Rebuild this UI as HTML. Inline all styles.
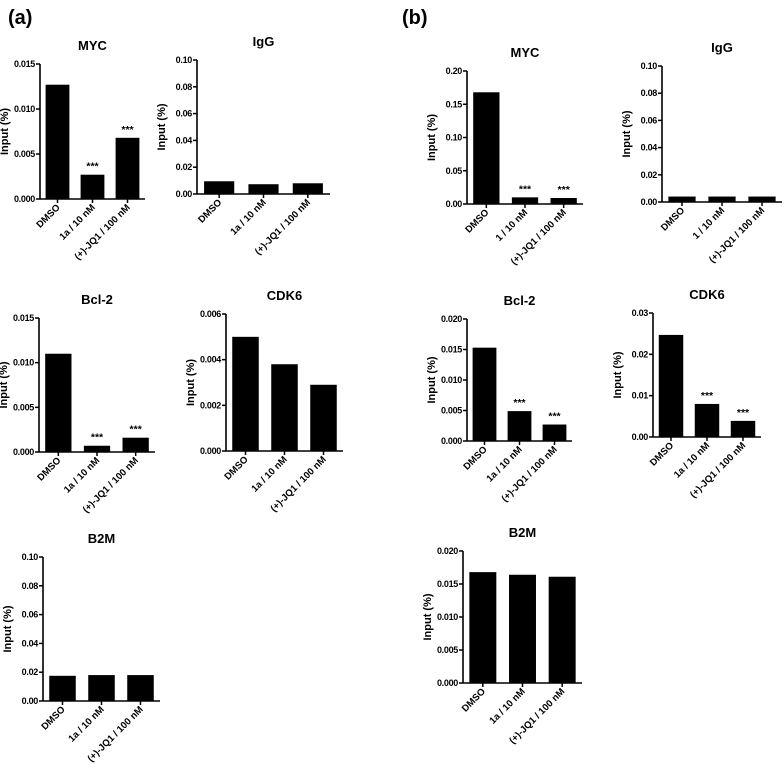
<!DOCTYPE html>
<html><head><meta charset="utf-8"><style>
html,body{margin:0;padding:0;background:#fff;}
svg{display:block;font-family:"Liberation Sans",Arial,sans-serif;font-weight:bold;}
</style></head><body>
<svg id="fig" width="784" height="776" viewBox="0 0 784 776" xmlns="http://www.w3.org/2000/svg">
<text x="8" y="24" font-size="20">(a)</text>
<text x="402" y="24" font-size="20">(b)</text>
</svg>
<script>
// data arrays
const catsA = ["DMSO","1a / 10 nM","(+)-JQ1 / 100 nM"];
const catsB = ["DMSO","1 / 10 nM","(+)-JQ1 / 100 nM"];
const aMycVals = [0.0127,0.0027,0.0068];
const aMycTicks = [0,0.005,0.010,0.015];
const aMycStars = ["","***","***"];
const aIggVals = [0.0095,0.0073,0.008];
const aIggTicks = [0,0.02,0.04,0.06,0.08,0.10];
const aBclVals = [0.011,0.0007,0.0016];
const aBclTicks = [0,0.005,0.010,0.015];
const aBclStars = ["","***","***"];
const aCdkVals = [0.005,0.0038,0.0029];
const aCdkTicks = [0,0.002,0.004,0.006];
const aB2mVals = [0.0175,0.018,0.018];
const aB2mTicks = [0,0.02,0.04,0.06,0.08,0.10];
const bMycVals = [0.168,0.010,0.009];
const bMycTicks = [0,0.05,0.10,0.15,0.20];
const bMycStars = ["","***","***"];
const bIggVals = [0.004,0.004,0.004];
const bIggTicks = [0,0.02,0.04,0.06,0.08,0.10];
const bBclVals = [0.0153,0.0049,0.0027];
const bBclTicks = [0,0.005,0.010,0.015,0.020];
const bBclStars = ["","***","***"];
const bCdkVals = [0.0247,0.008,0.0039];
const bCdkTicks = [0,0.01,0.02,0.03];
const bCdkStars = ["","***","***"];
const bB2mVals = [0.0168,0.0164,0.0161];
const bB2mTicks = [0,0.005,0.010,0.015,0.020];
const noStars = ["","",""];

const NS="http://www.w3.org/2000/svg";
const svg=document.getElementById('fig');
function mk(tag,attrs,parent){const e=document.createElementNS(NS,tag);for(const k in attrs)e.setAttribute(k,attrs[k]);(parent||svg).appendChild(e);return e;}

function panel(id,title,x0,x1,yTop,y0,dec,ticks,vals,cats,stars){
  const g=mk('g',{});
  
  
  const max=ticks[ticks.length-1];
  const ys=v=>y0-(v/max)*(y0-yTop);
  const step=(x1-x0)/cats.length;
  const xs=i=>x0+step*(i+0.5);
  const bw=step*0.68;
  const t=mk('text',{x:(x0+x1)/2,y:yTop-14,'font-size':13,'text-anchor':'middle'},g);
  t.textContent=title;
  
  
  vals.forEach((v,i)=>{
    const r=mk('rect',{x:xs(i)-bw/2,y:ys(v),width:bw,height:y0-ys(v),fill:'#000'},g);
    
    
    if(stars[i]){
      const s=mk('text',{x:xs(i),y:ys(v)-5,'font-size':10.5,'text-anchor':'middle'},g);
      s.textContent=stars[i];
      
      
    }
    mk('line',{x1:xs(i),x2:xs(i),y1:y0,y2:y0+4,stroke:'#000','stroke-width':1.5},g);
    const l=mk('text',{x:0,y:0,'font-size':9.6,'text-anchor':'end',transform:`translate(${xs(i)+3},${y0+9}) rotate(-45)`},g);
    l.textContent=cats[i];
    
    
  });
  mk('line',{x1:x0,x2:x0,y1:yTop,y2:y0,stroke:'#000','stroke-width':1.6},g);
  mk('line',{x1:x0,x2:x1,y1:y0,y2:y0,stroke:'#000','stroke-width':1.6},g);
  ticks.forEach(tv=>{
    mk('line',{x1:x0-4,x2:x0,y1:ys(tv),y2:ys(tv),stroke:'#000','stroke-width':1.5},g);
    const tl=mk('text',{x:x0-5,y:ys(tv)+3,'font-size':9,'text-anchor':'end','letter-spacing':'-0.3'},g);
    tl.textContent=tv.toFixed(dec);
    
    
  });
  const yt=mk('text',{x:0,y:0,'font-size':11,'text-anchor':'middle',transform:`translate(${x0-32},${(yTop+y0)/2}) rotate(-90)`},g);
  yt.textContent='Input (%)';
  
  
}
panel('a-myc','MYC',40,145,64,199,3,aMycTicks,aMycVals,catsA,aMycStars);
panel('a-igg','IgG',197,330,60,194,2,aIggTicks,aIggVals,catsA,noStars);
panel('a-bcl2','Bcl-2',39,155,318,452,3,aBclTicks,aBclVals,catsA,aBclStars);
panel('a-cdk6','CDK6',226,343,314,451,3,aCdkTicks,aCdkVals,catsA,noStars);
panel('a-b2m','B2M',43,160,557,701,2,aB2mTicks,aB2mVals,catsA,noStars);
panel('b-myc','MYC',467,583,71,204,2,bMycTicks,bMycVals,catsB,bMycStars);
panel('b-igg','IgG',662,782,66,202,2,bIggTicks,bIggVals,catsB,noStars);
panel('b-bcl2','Bcl-2',467,572,319,441,3,bBclTicks,bBclVals,catsA,bBclStars);
panel('b-cdk6','CDK6',653,761,313,437,2,bCdkTicks,bCdkVals,catsA,bCdkStars);
panel('b-b2m','B2M',463,582,551,683,3,bB2mTicks,bB2mVals,catsA,noStars);
</script>
</body></html>
